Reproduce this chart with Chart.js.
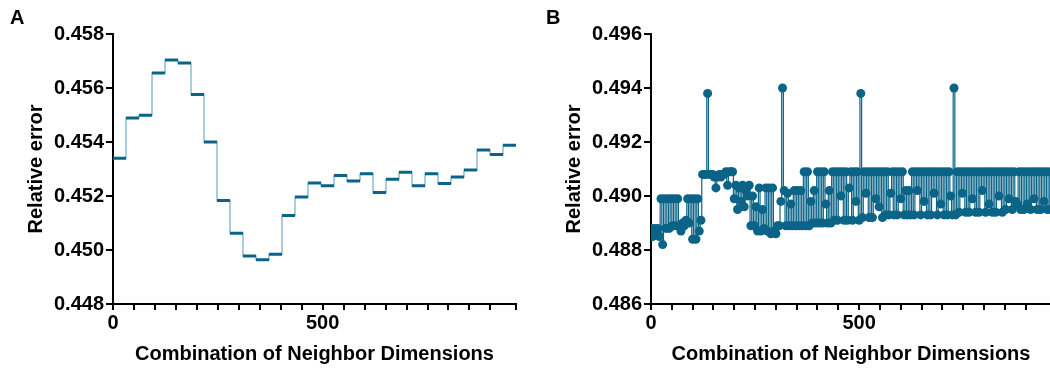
<!DOCTYPE html>
<html>
<head>
<meta charset="utf-8">
<script src="https://cdn.jsdelivr.net/npm/chart.js@4.4.0/dist/chart.umd.min.js"></script>
<style>
  body { margin: 0; background: #fff; }
  #wrap { position: relative; width: 1050px; height: 368px; overflow: hidden; }
  canvas { position: absolute; top: 0; }
  #chartA { left: 0; }
  #chartB { left: 530px; }
  .panel { position: absolute; top: 6px; font: bold 20px "Liberation Sans", Arial, sans-serif; }
</style>
</head>
<body>
<div id="wrap">
  <canvas id="chartA" width="540" height="368"></canvas>
  <canvas id="chartB" width="530" height="368"></canvas>
  <div class="panel" style="left:10px">A</div>
  <div class="panel" style="left:546px">B</div>
</div>
<script>
// combinations are grouped in blocks of 31 (31 x 31 = 961)
const blockSize = 31;
const xMax = 961;

// A: one relative error value per block of combinations
const relErrA = [
  0.45340, 0.45489, 0.45499, 0.45656, 0.45704, 0.45693, 0.45576, 0.45400,
  0.45183, 0.45062, 0.44978, 0.44964, 0.44984, 0.45128, 0.45196, 0.45248,
  0.45238, 0.45276, 0.45256, 0.45282, 0.45213, 0.45262, 0.45288, 0.45238,
  0.45282, 0.45246, 0.45270, 0.45296, 0.45370, 0.45354, 0.45388
];

// B: relative error read every 4 combinations (0, 4, 8 ... 960)
const stepB = 4;
const relErrB = [
  0.4888, 0.4885, 0.4888, 0.4886, 0.4888, 0.4885, 0.4899, 0.4882,
  0.4899, 0.4888, 0.4899, 0.4888, 0.4899, 0.4889, 0.4899, 0.4889,
  0.4899, 0.4889, 0.4887, 0.4890, 0.4889, 0.4891, 0.4899, 0.4890,
  0.4899, 0.4884, 0.4899, 0.4884, 0.4899, 0.4887, 0.4891, 0.4908,
  0.4908, 0.4908, 0.4938, 0.4908, 0.4908, 0.4908, 0.4907, 0.4903,
  0.4907, 0.4908, 0.4907, 0.4908, 0.4908, 0.4909, 0.4904, 0.4909,
  0.4909, 0.4909, 0.4899, 0.4904, 0.4895, 0.4903, 0.4898, 0.4904,
  0.4896, 0.4902, 0.4900, 0.4904, 0.4889, 0.4900, 0.4889, 0.4896,
  0.4887, 0.4903, 0.4887, 0.4895, 0.4888, 0.4903, 0.4887, 0.4903,
  0.4886, 0.4903, 0.4887, 0.4886, 0.4889, 0.4889, 0.4898, 0.4940,
  0.4902, 0.4889, 0.4901, 0.4889, 0.4897, 0.4889, 0.4902, 0.4889,
  0.4902, 0.4889, 0.4902, 0.4889, 0.4909, 0.4889, 0.4909, 0.4889,
  0.4898, 0.4890, 0.4902, 0.4890, 0.4909, 0.4890, 0.4909, 0.4890,
  0.4909, 0.4897, 0.4890, 0.4902, 0.4890, 0.4909, 0.4891, 0.4909,
  0.4891, 0.4909, 0.4900, 0.4909, 0.4891, 0.4909, 0.4891, 0.4903,
  0.4909, 0.4891, 0.4909, 0.4898, 0.4909, 0.4891, 0.4938, 0.4892,
  0.4909, 0.4901, 0.4909, 0.4892, 0.4909, 0.4892, 0.4909, 0.4899,
  0.4909, 0.4896, 0.4909, 0.4892, 0.4909, 0.4893, 0.4909, 0.4893,
  0.4901, 0.4909, 0.4893, 0.4909, 0.4893, 0.4909, 0.4899, 0.4909,
  0.4893, 0.4902, 0.4893, 0.4902, 0.4893, 0.4909, 0.4893, 0.4909,
  0.4902, 0.4909, 0.4893, 0.4909, 0.4898, 0.4909, 0.4893, 0.4909,
  0.4893, 0.4909, 0.4901, 0.4909, 0.4893, 0.4909, 0.4897, 0.4909,
  0.4893, 0.4909, 0.4893, 0.4909, 0.4900, 0.4893, 0.4940, 0.4893,
  0.4909, 0.4894, 0.4909, 0.4901, 0.4909, 0.4894, 0.4909, 0.4894,
  0.4909, 0.4899, 0.4909, 0.4894, 0.4909, 0.4894, 0.4909, 0.4902,
  0.4909, 0.4894, 0.4909, 0.4897, 0.4909, 0.4894, 0.4909, 0.4894,
  0.4909, 0.4900, 0.4909, 0.4894, 0.4909, 0.4895, 0.4909, 0.4899,
  0.4909, 0.4895, 0.4909, 0.4898, 0.4897, 0.4909, 0.4895, 0.4909,
  0.4895, 0.4909, 0.4897, 0.4909, 0.4895, 0.4909, 0.4899, 0.4909,
  0.4895, 0.4909, 0.4895, 0.4909, 0.4898, 0.4909, 0.4895, 0.4909,
  0.4895
];

const ticksA = { min: 0.448, max: 0.458, step: 0.002 };
const ticksB = { min: 0.486, max: 0.496, step: 0.002 };
const xLabels = [0, 500];

const xTitle = "Combination of Neighbor Dimensions";
const yTitle = "Relative error";

const darkTeal = "#0b6487";
const lightTeal = "#8cbdd3";
const fontBold = { family: "'Liberation Sans', Arial, sans-serif", size: 20, weight: "bold" };

function buildScales(yRange, yWidth, yTitlePad) {
  return {
    x: {
      type: "linear",
      min: 0,
      max: xMax,
      afterFit: (s) => { s.height = 64; },
      ticks: {
        stepSize: 50,
        autoSkip: false,
        maxRotation: 0,
        padding: 1,
        color: "#000",
        font: fontBold,
        callback: (v) => xLabels.includes(v) ? String(v) : ""
      },
      grid: { drawOnChartArea: false, tickLength: 6, color: "#000", lineWidth: 2 },
      border: { color: "#000", width: 2 },
      title: { display: true, text: xTitle, color: "#000", font: fontBold, padding: { top: 0, bottom: 2 } }
    },
    y: {
      min: yRange.min,
      max: yRange.max,
      afterFit: (s) => { s.width = yWidth; },
      ticks: {
        stepSize: yRange.step,
        padding: 2,
        color: "#000",
        font: fontBold,
        callback: (v) => v.toFixed(3)
      },
      grid: { drawOnChartArea: false, tickLength: 7, color: "#000", lineWidth: 2 },
      border: { color: "#000", width: 2 },
      title: { display: true, text: yTitle, color: "#000", font: fontBold, padding: { top: yTitlePad, bottom: 0 } }
    }
  };
}

// step line through the block starts, plus a thick bar over each block
const stepPoints = relErrA.map((v, i) => ({ x: i * blockSize, y: v }));
stepPoints.push({ x: xMax, y: relErrA[relErrA.length - 1] });

const barPoints = [];
relErrA.forEach((v, i) => {
  barPoints.push({ x: i * blockSize, y: v });
  barPoints.push({ x: (i + 1) * blockSize, y: v });
  barPoints.push({ x: (i + 1) * blockSize, y: null });
});

new Chart(document.getElementById("chartA"), {
  type: "line",
  data: {
    datasets: [
      { data: barPoints, borderColor: darkTeal, borderWidth: 3, pointRadius: 0, spanGaps: false },
      { data: stepPoints, borderColor: lightTeal, borderWidth: 1.5, pointRadius: 0, stepped: true }
    ]
  },
  options: {
    responsive: false,
    animation: false,
    devicePixelRatio: 1,
    layout: { padding: { left: 0, top: 34, right: 24, bottom: 0 } },
    plugins: { legend: { display: false }, tooltip: { enabled: false } },
    scales: buildScales(ticksA, 113, 24)
  }
});

const pointsB = relErrB.map((v, i) => ({ x: i * stepB, y: v }));

new Chart(document.getElementById("chartB"), {
  type: "line",
  data: {
    datasets: [{
      data: pointsB,
      borderColor: darkTeal,
      borderWidth: 1.2,
      stepped: "middle",
      pointRadius: 4.5,
      pointBackgroundColor: darkTeal,
      pointBorderWidth: 0
    }]
  },
  options: {
    responsive: false,
    animation: false,
    devicePixelRatio: 1,
    layout: { padding: { left: 0, top: 34, right: 9, bottom: 0 } },
    plugins: { legend: { display: false }, tooltip: { enabled: false } },
    scales: buildScales(ticksB, 121, 32)
  }
});
</script>
</body>
</html>
